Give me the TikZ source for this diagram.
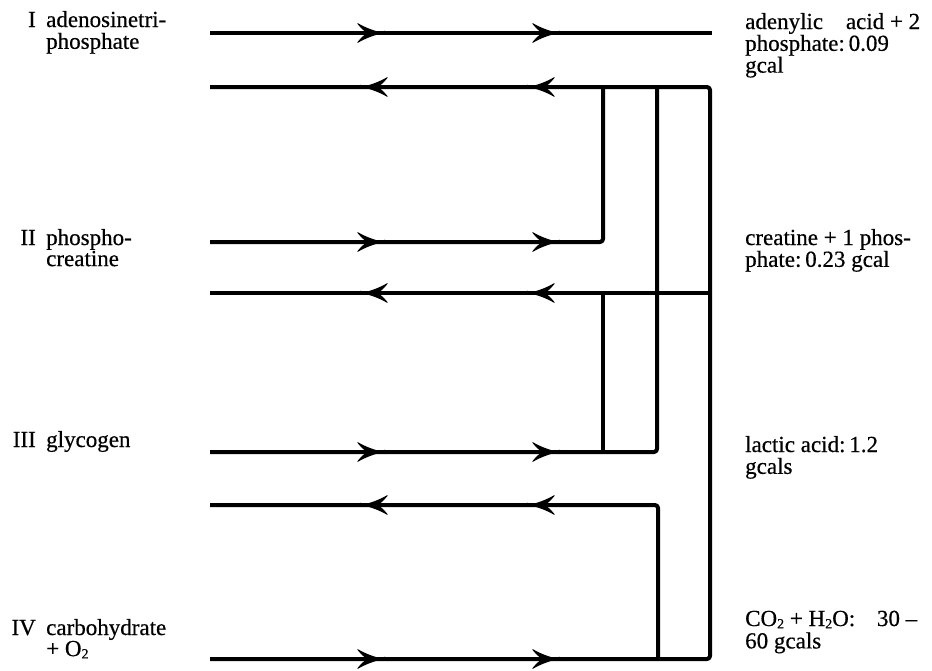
\documentclass[tikz,border=0pt]{standalone}
\usepackage{fontspec}
\setmainfont{Liberation Serif}
\newfontfamily\lblfont{Liberation Serif}[FakeBold=0.5]
\usetikzlibrary{decorations.markings}
\newcommand\myhead{\fill (0,0) .. controls (-9,1.5) and (-20,5.5) .. (-29,11) .. controls (-25,6) and (-21,2) .. (-17,0) .. controls (-21,-2) and (-25,-6) .. (-29,-11) .. controls (-20,-5.5) and (-9,-1.5) .. (0,0) -- cycle;}
\newcommand\lowsub[1]{\raisebox{-0.1em}{\fontsize{14}{14}\selectfont #1}}
\tikzset{
  flow/.style={line width=4pt, line join=round, rounded corners=3pt},
  fwd/.style={postaction={decorate, decoration={markings,
      mark=at position 175pt with {\myhead},
      mark=at position 350pt with {\myhead}}}},
  bwd/.style={postaction={decorate, decoration={markings,
      mark=at position -150pt with {\myhead},
      mark=at position -317pt with {\myhead}}}},
  lbl/.style={inner sep=0pt, anchor=base west, font=\lblfont\fontsize{23}{19.5}\selectfont},
  num/.style={inner sep=0pt, anchor=base east, font=\lblfont\fontsize{23}{19.5}\selectfont},
}
\begin{document}
\begin{tikzpicture}[x=1pt,y=-1pt]
\useasboundingbox (0,0) rectangle (932,670);
% end points
\coordinate (a1f) at (210,33);  \coordinate (b1f) at (712,33);
\coordinate (a1b) at (210,87);
\coordinate (a2f) at (210,242); \coordinate (c2f) at (603,242);
\coordinate (a2b) at (210,293); \coordinate (b2b) at (710,293);
\coordinate (a3f) at (210,452); \coordinate (c3f) at (657,452);
\coordinate (a3b) at (210,505); \coordinate (c3b) at (658,505);
\coordinate (a4f) at (210,659); \coordinate (b4f) at (710,659);
\coordinate (t1) at (603,87); \coordinate (t2) at (657,87); \coordinate (t3) at (710,87);
\coordinate (s2) at (603,293); \coordinate (s3) at (603,452);
\coordinate (u4) at (658,659);
% lines
\draw[flow,fwd] (a1f) -- (b1f);
\draw[flow,fwd,bwd] (a4f) -- (b4f) -- (t3) -- (a1b);
\draw[flow,fwd] (a2f) -- (c2f) -- (t1);
\draw[flow,fwd] (a3f) -- (c3f) -- (t2);
\draw[flow,bwd] (b2b) -- (a2b);
\draw[flow] (s2) -- (s3);
\draw[flow,bwd] (u4) -- (c3b) -- (a3b);
% left labels
\node[num] (n1) at (36,27) {I};
\node[lbl] (l1) at (46,27) {\begin{tabular}[t]{@{}l@{}}adenosinetri-\\phosphate\end{tabular}};
\node[num] (n2) at (36,245) {II};
\node[lbl] (l2) at (46,245) {\begin{tabular}[t]{@{}l@{}}phospho-\\creatine\end{tabular}};
\node[num] (n3) at (36,447) {III};
\node[lbl] (l3) at (46,447) {glycogen};
\node[num] (n4) at (36,635) {IV};
\node[lbl] (l4) at (46,635) {\begin{tabular}[t]{@{}l@{}}carbohydrate\\+ O\lowsub{2}\end{tabular}};
% right labels
\node[lbl] (r1) at (745,29) {\begin{tabular}[t]{@{}l@{}}\makebox[175pt][l]{adenylic\hfill acid + 2}\\phosphate:\,0.09\\gcal\end{tabular}};
\node[lbl] (r2) at (745,245) {\begin{tabular}[t]{@{}l@{}}creatine + 1 phos-\\phate:\,0.23 gcal\end{tabular}};
\node[lbl] (r3) at (745,452) {\begin{tabular}[t]{@{}l@{}}lactic acid:\,1.2\\gcals\end{tabular}};
\node[lbl, font=\lblfont\fontsize{23}{21.5}\selectfont] (r4) at (745,626) {\begin{tabular}[t]{@{}l@{}}\makebox[172pt][l]{CO\lowsub{2} + H\lowsub{2}O:\hfill 30 –}\\60 gcals\end{tabular}};
\end{tikzpicture}
\end{document}
